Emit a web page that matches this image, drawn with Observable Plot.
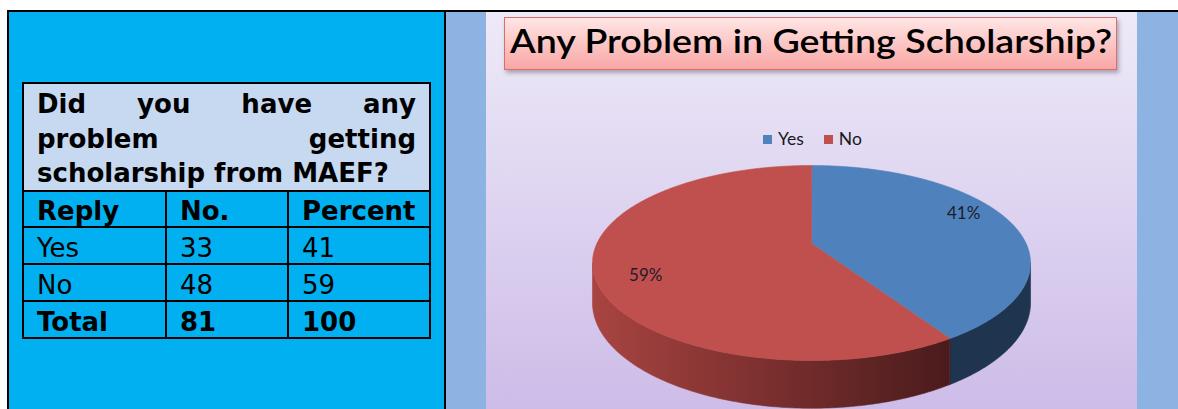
<!DOCTYPE html>
<html>
<head>
<meta charset="utf-8">
<script src="https://cdn.jsdelivr.net/npm/d3@7"></script>
<script src="https://cdn.jsdelivr.net/npm/@observablehq/plot@0.6"></script>
<style>
html,body{margin:0;padding:0;background:#fff;width:1178px;height:409px;overflow:hidden;position:relative;font-family:"DejaVu Sans",sans-serif}
.abs{position:absolute}
#topline{left:7px;top:10px;width:1171px;height:2px;background:#000}
#leftline{left:7px;top:10px;width:2px;height:399px;background:#000}
#leftcell{left:9px;top:12px;width:435px;height:397px;background:#00B0F0}
#divider{left:444px;top:12px;width:2px;height:397px;background:#000}
#rightcell{left:446px;top:12px;width:732px;height:397px;background:#8DB3E2}
#chartarea{left:486px;top:12px;width:651px;height:397px;background:linear-gradient(#EEEAF8,#CDBCE8)}
#tbl{left:22px;top:82px;padding:2px;background:#000;display:grid;grid-template-columns:141px 120px 140px;grid-template-rows:106px 34px 35px 35px 35px;gap:2px}
.cell{background:#00B0F0;font-size:26px;line-height:30px;color:#000;padding:4px 0 0 13px;box-sizing:border-box;display:flex;align-items:center;white-space:nowrap}
.bold{font-weight:bold}
.q{grid-column:1 / span 3;background:#C6D9F1;font-weight:bold;font-size:26px;line-height:34.5px;padding:3px 13px 0 13px;box-sizing:border-box}
.q div{text-align:justify;text-align-last:justify;white-space:nowrap}
.q div.last{text-align-last:left}
#title{left:504px;top:17px;width:613px;height:53px;box-sizing:border-box;border:1.5px solid #D5706D;background:linear-gradient(#FFE6E5,#F8A6A4);box-shadow:2px 3px 4px rgba(60,40,60,0.35)}
#titletext{position:absolute;left:5px;top:3px;font-family:Lato,sans-serif;font-weight:600;font-size:32px;line-height:40px;color:#000;white-space:nowrap;transform-origin:0 0}
#legend{left:763px;top:130px;display:flex;align-items:center;font-family:Lato,sans-serif;font-size:17.5px;color:#1a1a1a;line-height:18px}
#legend .sw{width:9px;height:9px;margin-right:6px}
#legend .item{display:flex;align-items:center;margin-right:20px}
#pie{left:486px;top:150px;width:651px;height:259px}
#pie svg{background:transparent !important;max-width:none}
</style>
</head>
<body>
<div class="abs" id="leftcell"></div>
<div class="abs" id="rightcell"></div>
<div class="abs" id="chartarea"></div>
<div class="abs" id="topline"></div>
<div class="abs" id="leftline"></div>
<div class="abs" id="divider"></div>
<div class="abs" id="tbl"></div>
<div class="abs" id="title"><span id="titletext"></span></div>
<div class="abs" id="legend"></div>
<div class="abs" id="pie"></div>
<script>
// ---- data ----
const questionLines = ["Did you have any", "problem getting", "scholarship from MAEF?"];
const headers = ["Reply", "No.", "Percent"];
const replies = ["Yes", "No"];
const counts = [33, 48];
const percents = [41, 59];
const totalLabel = "Total";
const totalCount = 81;
const totalPercent = 100;
const chartTitle = "Any Problem in Getting Scholarship?";
const sliceColors = ["#4F81BD", "#C0504D"];

// ---- table ----
const tbl = document.getElementById("tbl");
const q = document.createElement("div");
q.className = "q";
questionLines.forEach((t, i) => {
  const d = document.createElement("div");
  d.textContent = t;
  if (i === questionLines.length - 1) d.className = "last";
  q.appendChild(d);
});
tbl.appendChild(q);
function addCell(text, bold) {
  const c = document.createElement("div");
  c.className = "cell" + (bold ? " bold" : "");
  c.textContent = text;
  tbl.appendChild(c);
}
headers.forEach(h => addCell(h, true));
replies.forEach((r, i) => { addCell(r, false); addCell(String(counts[i]), false); addCell(String(percents[i]), false); });
addCell(totalLabel, true); addCell(String(totalCount), true); addCell(String(totalPercent), true);

// ---- title ----
const tt = document.getElementById("titletext");
tt.textContent = chartTitle;
const tw = tt.getBoundingClientRect().width;
tt.style.transform = `scaleX(${602 / tw})`;

// ---- legend ----
const lg = document.getElementById("legend");
replies.forEach((r, i) => {
  const it = document.createElement("div");
  it.className = "item";
  const sw = document.createElement("div");
  sw.className = "sw";
  sw.style.background = sliceColors[i];
  const tx = document.createElement("span");
  tx.textContent = r;
  it.appendChild(sw); it.appendChild(tx);
  lg.appendChild(it);
});

// ---- 3D pie (perspective projection of a disc) ----
const W = 651, H = 259;
const cx = 325, cy = 93, A = 214.6, B = 93.6, P = 0.2, D = 38.2;
function proj(theta, r = 1, drop = 0) {
  const X = r * Math.sin(theta), Z = r * Math.cos(theta);
  const w = 1 + P * Z;
  return [cx + A * X / w, cy - B * Z / w + drop / w];
}
const total = d3.sum(percents);
let acc = 0;
const slices = percents.map((v, i) => {
  const a0 = acc / total * 2 * Math.PI;
  acc += v;
  const a1 = acc / total * 2 * Math.PI;
  return {name: replies[i], value: v, a0, a1, color: sliceColors[i]};
});
const vis0 = Math.acos(-P), vis1 = 2 * Math.PI - Math.acos(-P);
function arc(a, b, r, drop) {
  const n = Math.max(2, Math.ceil((b - a) / 0.01));
  return d3.range(n + 1).map(k => proj(a + (b - a) * k / n, r, drop));
}
const sideFill = ["#1F344E", "url(#noSide)"];
const marks = [];
slices.forEach((s, i) => {
  const a = Math.max(s.a0, vis0), b = Math.min(s.a1, vis1);
  if (b > a) {
    const pts = arc(a, b, 1, 0).concat(arc(a, b, 1, D).reverse());
    marks.push(Plot.line(pts, {x: d => d[0], y: d => d[1], fill: sideFill[i], stroke: sideFill[i], strokeWidth: 0.6, curve: "linear-closed"}));
  }
});
slices.forEach(s => {
  const pts = [proj(0, 0)].concat(arc(s.a0, s.a1, 1, 0));
  marks.push(Plot.line(pts, {x: d => d[0], y: d => d[1], fill: s.color, stroke: s.color, strokeWidth: 0.6, curve: "linear-closed"}));
});
const labels = slices.map(s => {
  const m = (s.a0 + s.a1) / 2;
  const [x, y] = proj(m, 0.77);
  return {x, y: y - 40 * Math.cos(m), text: `${s.value}%`};
});
marks.push(Plot.text(labels, {x: "x", y: "y", text: "text", fontSize: 17, fontFamily: "Lato, sans-serif", fill: "#1c1c2a"}));

const svg = Plot.plot({
  width: W, height: H, margin: 0,
  style: {background: "transparent", overflow: "visible"},
  x: {domain: [0, W], range: [0, W], axis: null},
  y: {domain: [0, H], range: [0, H], axis: null},
  marks
});
const defs = d3.select(svg).insert("defs", ":first-child");
const g = defs.append("linearGradient").attr("id", "noSide").attr("x1", 0).attr("x2", 1).attr("y1", 0).attr("y2", 0);
g.append("stop").attr("offset", 0).attr("stop-color", "#A84441");
g.append("stop").attr("offset", 0.5).attr("stop-color", "#7A2F2E");
g.append("stop").attr("offset", 1).attr("stop-color", "#4A1B1C");
document.getElementById("pie").appendChild(svg);
</script>
</body>
</html>
